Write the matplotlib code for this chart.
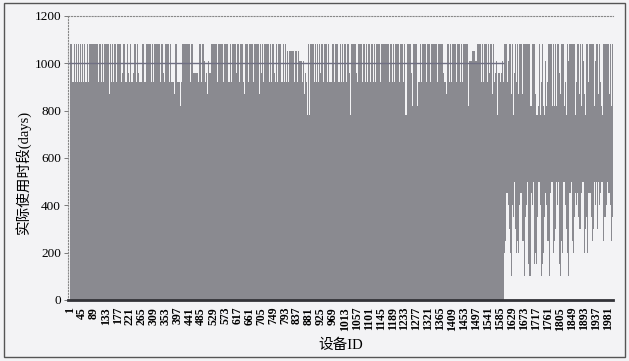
import numpy as np
import matplotlib
matplotlib.use("Agg")
import matplotlib.pyplot as plt
from matplotlib.patches import Rectangle

plt.rcParams["font.family"] = ["Liberation Serif", "Noto Sans CJK SC"]

# level codes (days)
end_levels = {"A": 1080, "B": 1050, "C": 1010, "D": 960, "E": 920,
              "F": 870, "G": 820, "H": 780}
start_levels = {"0": 0, "1": 100, "2": 150, "3": 200, "4": 250,
                "5": 300, "6": 350, "7": 400, "8": 450, "9": 500}

# end of the usage period, one code per device (ID 1 ... 2000)
end_codes = """
AAAHHHAEAA EAAEAAEAAA EEAAAAEEEA ADAAEEAAAA EAAEAAAAAD EEEAAAAEAA AEAADAAEEE AAAAEAAAAD
AAEAAEEAAA EAADAAAEAA AEAAEEEEAA EAAAAAEAAE AAAAEEAAAA EAAEEAAEAD AAAFFFFAEA AAAEEADAAA
EEAAAADAAA EEEEAAAAEA AAEAAEAAAE EAAADAAAAE EAAAAEEEEA AAAAEADAAE AAAAEEEEAA EAAADAAEAA
AAAEEEEAAA AEADAAEEAA EAAAEEAAAA DAAAEEEEEA AAAAEAAAEA ADAAEAAAAA EAAAAEEEEE AAAEAADAEA
AAAAEEAAAD AEAAEEAAAA EAAAADAEEE AAAEAAAEAA AEAAADEEEE AAAAEAAAEE AEAAFFFFEA AAAEAAEEEE
EEDDEEGGGG EEAAAADAAA AEAAEAAAAA EEEAAAEAAD AAAAEEAAAA EAEADDEEDD EEDDEEDEED DEEEAAAAEA
AAAAEEEAAA AEAAACCDDE CCDDCFFFFC CDCCDDCCDE AAAEAADAEA AAAAEAAAEE AAAEEEAAAA EAAAADAEAA
AAAEAEEAAA EAAAADAAAE AAAEEAAAEA AAAEEEEEAA EAAAEAAAEA AAADAEEAAA EAAAEEEAAA AAAEAADAAE
AFFFFAAAEE AAAEADAAEE AAAEAAAAEA AAAEEEEAAA AEAAAADAEE AAAAAEFFFF AAAEADAEEA AAAEAAAEAA
AAAEAEEAAA EAAAAEAAEA AEEEEAAAEA AAADAAAEEA AAAEEEEEAA EAAAEADAAE AAAEEEAAAA EAAAADAEAA
BBBBEEBBBB EBBEEBBBBE BBBBBEEEBB BBBEBBBEEB BBBEBCCECC DCCCCEECCC CCFFFFCDDC CEHHHHEEAA
HHHHAAAEAA EAAAEEAAAA EAAAADAEEE AAAEAEAAAA AEADAAAAEE AAAEEEEAAA AAAEAADAEA AAAEAAEEEE
AAAEAADAEA AAAEEEEAAA AAAEAAAAEE AAAEEEAAAA EAAAADAEEA AAAEAAAAEE AAAEEEAAAD HHHHHEAAAA
AAAEAEEAAA EAAAADAAAE AAAEEAAAEA AAAEAEEEEA AAAEAAAAEE AEADAAEAAA EAAAAAAEEE AAAEADAAEA
AAAEEEAAAA EAAADAAEEE AAAEAAEAAA AAAEAADAAE AAAEEEAAAA EAAAAEEEAA AAAEAADAEA AAAEEEEEAA
AAAEADAAEA AAAEAEEAAA EAAAAEAAEA AAAEAAHHHH EAAAEADAAE AAAEAAAADE EGGGGAAAEA AAAEEAAAGG
GGGEAAAEAA EAEEEEAAAA EAAADAAAEA AAAEEEEAAA AAAEAAAAEE AAAEAAEAAA EAAADAAEEE AAAEAAAAEE
AAAEAEEAAA EAAAADAAAE AAAEAEFFFE AAAEAAAEEA AAAEEEEAAA EAAAADAAAE AAAEEEEAAA AAAEAAAEEA
AAAEAEEAAA EAAADAAEEE AAAEAAAGGG CCBBCCBBCC DBBCCBBCCC BBCCDDCCBB AAAEADAEAA EAAAAEEEAA
AAAEADAAEA AAAEAEEEAA EAAAADAAAE AAAFFFFEEA AAAEAEEDDD CCDDHHHHDD CCDDDEECCD DDCCDDEEDD
AAGAAFEAHA AEAACCAGAA AFAAGGFEEA AGAHAADDAA AFAEEAGAAG AAFAHAACCA AGAAEEFFAA AFAGAAHAFF
AAFAGAAHAA EEAFAAGAGG AHAAACCAFA AGAFFEEAHA HHAFAGAAFA AGAHAAEEAA AFAAGGAHAA CCAFAGAEEA
AGAFAAAEEA AHAAFFAGAA AFAGGAHAAF AGAAFAEEAA ADDAGAFAHA AFAGAAHAEE AGAFFEAAHA AFAGACCAAA
AAGAFAHAAA AAEEAGAFAA AHAAEEGAFA AGAHAAFFAA AFAGAHAAEE ACCAFAGAHA AFAAGGAAAE EAGAFAHAAA
AFAGAAEEAA AGAACCAFAA AHAGAAFFAA AAEEAFAGAA AHAFAGGAAA AFAGAACCAA AGAAEEAFAA AAFAGAAHAA
"""

# start of the usage period for the late devices (ID 1601 ... 2000)
tail_start_codes = """
3729461835 4826371958 2738461927 3846271938 5729381647 2839471628 3718294637 4928173648
1728391627 2819371628 1937281946 2718391728 1628391729 3817291638 2719381627 1829371846
3849271958 4839261947 3928471859 4938271849 3829471958 4829371948 3948271859 4839261948
5948372958 4958372968 5849372958 4968375849 5948372968 4958372859 5968473958 4958372869
6958476958 7968475869 6958479868 7958476968 6978495868 7968475969 6958479868 7968495869
"""

end_days = np.array([end_levels[c] for c in "".join(end_codes.split())])
tail_starts = [start_levels[c] for c in "".join(tail_start_codes.split())]
start_days = np.array([0] * (len(end_days) - len(tail_starts)) + tail_starts)
device_ids = np.arange(1, len(end_days) + 1)

bg = "#f3f3f5"
bar_color = "#8a8a90"

fig = plt.figure(figsize=(6.29, 3.61), dpi=100, facecolor=bg)
ax = fig.add_axes([0.1081, 0.169, 0.8665, 0.7867], facecolor=bg)

ax.bar(device_ids, end_days - start_days, bottom=start_days, width=1.0,
       color=bar_color, linewidth=0)

x_lo, x_hi = -6, len(end_days) + 0.5
body_end = device_ids[start_days == 0].max()
ax.hlines(1000, x_lo, body_end + 0.5, color="#707084", lw=1.0, zorder=3)

ax.set_xlim(x_lo, x_hi)
ax.set_ylim(0, 1200)
ax.set_yticks(range(0, 1201, 200))
ax.set_xticks(device_ids[::44])
ax.set_xticklabels([str(i) for i in device_ids[::44]], rotation=90,
                   fontsize=8.5, fontweight="bold")
ax.tick_params(axis="x", length=0, pad=5)
ax.tick_params(axis="y", length=3, width=0.6, labelsize=9.5, pad=2,
               color="#666666")

for side in ["top", "left"]:
    ax.spines[side].set_linestyle(":")
    ax.spines[side].set_color("#888888")
    ax.spines[side].set_linewidth(0.8)
ax.spines["right"].set_visible(False)
ax.spines["bottom"].set_color("#333338")
ax.spines["bottom"].set_linewidth(2)

ax.set_ylabel("实际使用时段(days)", fontsize=10.5)
ax.yaxis.set_label_coords(-0.068, 0.45)
ax.set_xlabel("设备ID", fontsize=10.5, labelpad=6)

fig.patches.append(Rectangle((0.006, 0.01), 0.988, 0.982,
                             transform=fig.transFigure, fill=False,
                             edgecolor="#555555", lw=1))

fig.savefig("out.png", dpi=100, facecolor=bg)
